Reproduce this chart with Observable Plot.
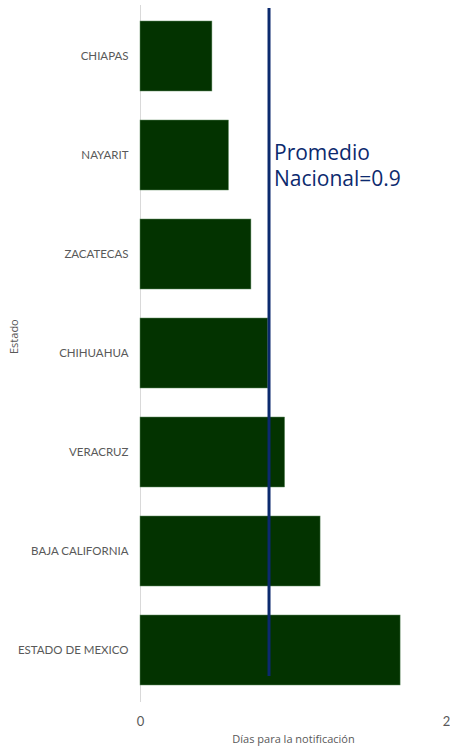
<!DOCTYPE html>
<html>
<head>
<meta charset="utf-8">
<script src="https://cdn.jsdelivr.net/npm/d3@7"></script>
<script src="https://cdn.jsdelivr.net/npm/@observablehq/plot@0.6"></script>
<style>
  html, body { margin: 0; padding: 0; background: #fff; }
  g[aria-label="x-axis tick label"] text { font-size: 13px; }
  g[aria-label="y-axis tick label"] text { font-size: 11.5px; }
</style>
</head>
<body>
<div id="chart"></div>
<script>
const estados = ["CHIAPAS", "NAYARIT", "ZACATECAS", "CHIHUAHUA", "VERACRUZ", "BAJA CALIFORNIA", "ESTADO DE MEXICO"];
const dias = [0.47, 0.578, 0.725, 0.835, 0.945, 1.177, 1.70];
const promedio = 0.84;
const promedioLabel = "Promedio\nNacional=0.9";
const xTicks = [0, 2];

const data = estados.map((e, i) => ({estado: e, dias: dias[i]}));

const chart = Plot.plot({
  width: 450,
  height: 747,
  marginLeft: 140,
  marginRight: 4,
  marginTop: 5,
  marginBottom: 45,
  style: {fontFamily: "Lato, sans-serif", fontSize: "12px", color: "#595959", background: "#fff"},
  x: {domain: [0, 2], ticks: xTicks, tickFormat: d3.format("d"), tickSize: 0, tickPadding: 14, label: null},
  y: {domain: estados, paddingInner: 0.29, paddingOuter: 0.145, tickSize: 0, tickPadding: 12, label: null},
  marks: [
    Plot.ruleX([0], {stroke: "#d9d9d9", strokeWidth: 1}),
    Plot.barX(data, {x: "dias", y: "estado", fill: "#033300", stroke: "#5f8a5f", strokeWidth: 0.5}),
    Plot.ruleX([promedio], {stroke: "#0c2a6e", strokeWidth: 3, insetTop: 3, insetBottom: 26}),
    Plot.text([promedioLabel], {x: promedio, y: () => "NAYARIT", dx: 5, dy: 9, textAnchor: "start", lineAnchor: "middle", lineHeight: 1.25, fontSize: 21, fill: "#0c2a6e", fontFamily: "'Open Sans', sans-serif"}),
    Plot.text(["Estado"], {frameAnchor: "left", dx: -126, rotate: -90, fontSize: 11, fill: "#595959", fontFamily: "'Open Sans', sans-serif", letterSpacing: "0.5px"}),
    Plot.text(["Días para la notificación"], {frameAnchor: "bottom", dy: 40, fontSize: 11, fill: "#595959", fontFamily: "'Open Sans', sans-serif"})
  ]
});
document.getElementById("chart").appendChild(chart);
</script>
</body>
</html>
